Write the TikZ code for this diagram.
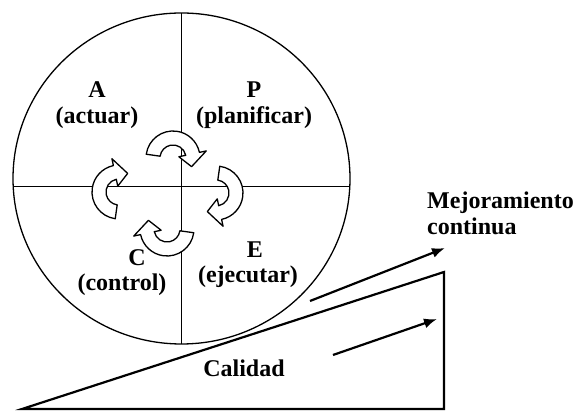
\documentclass[tikz,border=0pt]{standalone}
\usepackage{fontspec}
\setmainfont{Liberation Serif}
\usetikzlibrary{arrows.meta}
\usetikzlibrary{calc}
\tikzset{
    cyclearrow/.style={line width=1.3pt, fill=white, line join=round},
    ciclo/.pic={
        \draw[cyclearrow] (172:27) arc[start angle=172, end angle=12, radius=27]
            -- (12:34) -- (-25:20.5) -- (12:6) -- (12:13)
            arc[start angle=12, end angle=172, radius=13] -- cycle;
    },
}

\begin{document}
\begin{tikzpicture}[
            x=1pt, y=1pt,
            font=\bfseries\fontsize{24}{28}\selectfont,
            txt/.style={inner sep=0pt, anchor=base},
            thinline/.style={line width=1.3pt},
            rampline/.style={line width=2.2pt},
            trend/.style={line width=2.2pt, -{Latex[length=13pt, width=10pt]}},
        ]
            \useasboundingbox (0,0) rectangle (575,411);

            % --- PDCA wheel ---
            \draw[thinline] (181.5,232.5) ellipse[x radius=168.5, y radius=165.5];
            \draw[thinline] (13.2,224.3) -- (349.8,224.3);
            \draw[thinline] (181.7,398) -- (181.7,67);

            % --- the four turning arrows, clockwise ---
            \pic[rotate=0] at (173,253) {ciclo};
            \pic[rotate=-90] at (216,218) {ciclo};
            \pic[rotate=180] at (167,182) {ciclo};
            \pic[rotate=90] at (119,219) {ciclo};

            % --- quadrant labels ---
            \node[txt] (letterA) at (97,313) {A};
            \node[txt] (wordA) at (97,287) {(actuar)};
            \node[txt] (letterP) at (254,313) {P};
            \node[txt] (wordP) at (254,287) {(planificar)};
            \node[txt] (letterC) at (137,145) {C};
            \node[txt] (wordC) at (122,120) {(control)};
            \node[txt] (letterE) at (255,153) {E};
            \node[txt] (wordE) at (248,128) {(ejecutar)};

            % --- quality ramp ---
            \coordinate (rampLow) at (22,2);
            \coordinate (rampTop) at (444,139);
            \coordinate (rampBase) at (444,2);
            \draw[rampline] (rampLow) -- (rampTop) -- (rampBase) -- cycle;

            \coordinate (upStart) at (310,110);
            \coordinate (upEnd) at (445,163);
            \coordinate (lowStart) at (333,56);
            \coordinate (lowEnd) at (437,92);
            \draw[trend] (upStart) -- (upEnd);
            \draw[trend] (lowStart) -- (lowEnd);

            \node[txt, anchor=base west] (mejora) at (427,202) {Mejoramiento};
            \node[txt, anchor=base west] (continua) at (427,176) {continua};
            \node[txt] (calidad) at (244,34) {Calidad};
        \end{tikzpicture}
\end{document}
